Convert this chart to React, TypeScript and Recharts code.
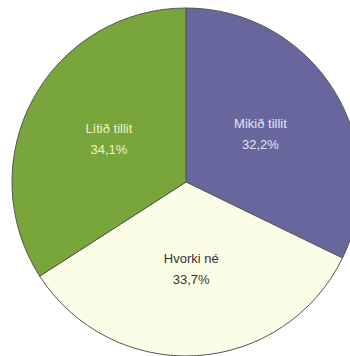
import React from 'react';
import { PieChart, Pie, Cell } from 'recharts';

const categories = ['Mikið tillit', 'Hvorki né', 'Lítið tillit'];
const shares = [32.2, 33.7, 34.1];
const colors = ['#67679e', '#fbfde6', '#79a63b'];
const labelColors = ['#e4e4f2', '#333333', '#eef4c8'];

const data = categories.map((name, i) => ({ name, value: shares[i] }));

const RAD = Math.PI / 180;

const renderLabel = (props: any) => {
  const { cx, cy, midAngle, outerRadius, index } = props;
  const r = outerRadius * 0.505;
  const x = cx + r * Math.cos(-midAngle * RAD);
  const y = cy + r * Math.sin(-midAngle * RAD);
  const pct = shares[index].toFixed(1).replace('.', ',') + '%';
  return (
    <text
      x={x}
      y={y}
      fill={labelColors[index]}
      textAnchor="middle"
      fontFamily="'Liberation Sans', Arial, sans-serif"
      fontSize={13}
    >
      <tspan x={x} dy={-7}>{categories[index]}</tspan>
      <tspan x={x} dy={21}>{pct}</tspan>
    </text>
  );
};

const App: React.FC = () => {
  return (
    <div style={{ position: 'absolute', left: 0, top: 0, width: 350, height: 356, background: '#fff' }}>
      <PieChart width={350} height={356} margin={{ top: 0, right: 0, bottom: 0, left: 0 }}>
        <Pie
          data={data}
          dataKey="value"
          cx={186}
          cy={182}
          outerRadius={174}
          startAngle={90}
          endAngle={-270}
          stroke="#555"
          strokeWidth={1}
          label={renderLabel}
          labelLine={false}
          isAnimationActive={false}
        >
          {data.map((entry, index) => (
            <Cell key={`cell-${index}`} fill={colors[index]} />
          ))}
        </Pie>
      </PieChart>
    </div>
  );
};

export default App;
